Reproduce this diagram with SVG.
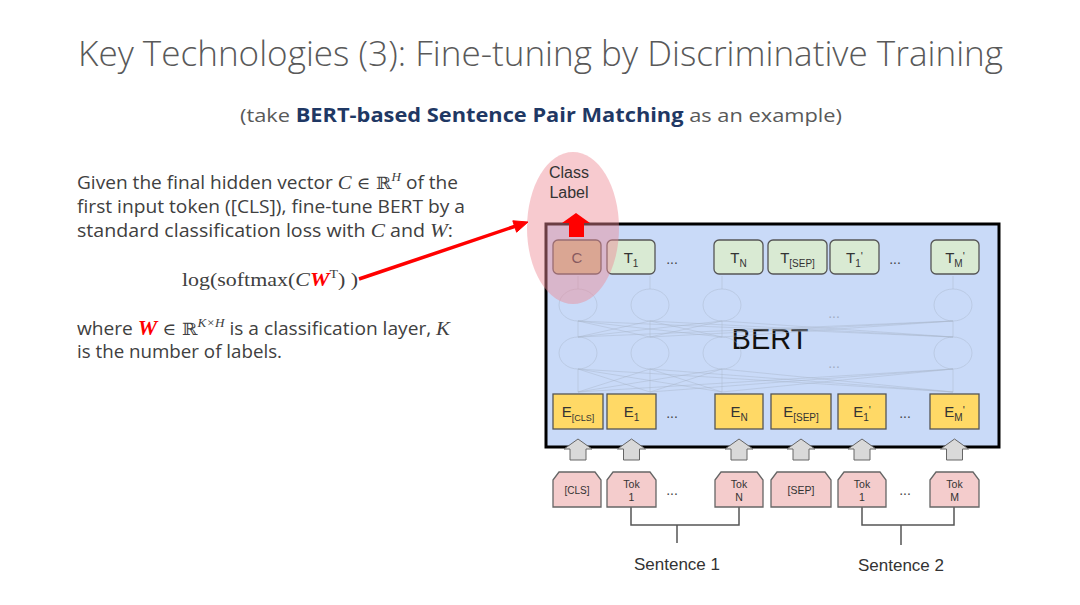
<svg xmlns="http://www.w3.org/2000/svg" width="1080" height="605" viewBox="0 0 1080 605">
<style>
.title{font-family:"Open Sans","Liberation Sans",sans-serif;font-weight:300;font-size:35px;fill:#595959}
.sub{font-family:"Open Sans","Liberation Sans",sans-serif;font-size:19px;fill:#595959}
.subb{font-weight:700;fill:#1f3864}
.body{font-family:"Open Sans","Liberation Sans",sans-serif;font-size:17.5px;fill:#404040}
.mi{font-family:"Liberation Serif",serif;font-style:italic}
.ds{font-family:"DejaVu Serif",serif;font-size:17px}
.red{fill:#ff0000;font-weight:700}
.math{font-family:"Liberation Serif",serif;font-size:19px;fill:#404040}
.lab{font-family:"Liberation Sans",Arial,sans-serif;fill:#333;text-anchor:middle}
.tbox{fill:#d9ead3;stroke:#555;stroke-width:1.3}
.ebox{fill:#ffd966;stroke:#555;stroke-width:1.3}
.tok{fill:#f4cccc;stroke:#666;stroke-width:1.3}
.garr{fill:#d9d9d9;stroke:#666;stroke-width:1}
.net{stroke:#a9b6ca;stroke-width:0.9;fill:none;opacity:0.5}
.dots{font-family:"Liberation Sans",Arial,sans-serif;font-size:14px;fill:#444;text-anchor:middle}
.brk{stroke:#555;stroke-width:1.5;fill:none}
</style>

<text class="title" x="78" y="66" textLength="925" lengthAdjust="spacingAndGlyphs">Key Technologies (3): Fine-tuning by Discriminative Training</text>
<text class="sub" x="240" y="122" textLength="602" lengthAdjust="spacingAndGlyphs">(take <tspan class="subb">BERT-based Sentence Pair Matching</tspan> as an example)</text>

<g id="explanation">
<text class="body" x="77" y="189" textLength="381" lengthAdjust="spacingAndGlyphs">Given the final hidden vector <tspan class="mi" font-size="19">C</tspan> <tspan class="ds">∈ ℝ</tspan><tspan class="mi" font-size="12" dy="-8">H</tspan><tspan dy="8"> of the</tspan></text>
<text class="body" x="77" y="213" textLength="388" lengthAdjust="spacingAndGlyphs">first input token ([CLS]), fine-tune BERT by a</text>
<text class="body" x="77" y="237" textLength="376" lengthAdjust="spacingAndGlyphs">standard classification loss with <tspan class="mi" font-size="19">C</tspan> and <tspan class="mi" font-size="19">W</tspan>:</text>
<text class="math" x="182" y="286" textLength="176" lengthAdjust="spacingAndGlyphs">log(softmax(<tspan class="mi">C</tspan><tspan class="mi red">W</tspan><tspan font-size="12" dy="-8">T</tspan><tspan dy="8">) )</tspan></text>
<text class="body" x="77" y="335" textLength="373" lengthAdjust="spacingAndGlyphs">where <tspan class="mi red" font-size="20">W</tspan> <tspan class="ds">∈ ℝ</tspan><tspan class="mi" font-size="12" dy="-8">K×H</tspan><tspan dy="8"> is a classification layer, </tspan><tspan class="mi" font-size="19">K</tspan></text>
<text class="body" x="77" y="358" textLength="205" lengthAdjust="spacingAndGlyphs">is the number of labels.</text>
</g>

<g id="bert">
<rect x="546" y="224" width="453" height="223" fill="#c9daf8" stroke="#000" stroke-width="3"/>
<text x="770" y="349" font-family="Liberation Sans,Arial,sans-serif" font-size="29" fill="#111" text-anchor="middle">BERT</text>
</g>

<g id="network">
<ellipse class="net" cx="578" cy="305" rx="19" ry="16"/>
<ellipse class="net" cx="650" cy="305" rx="19" ry="16"/>
<ellipse class="net" cx="722" cy="305" rx="19" ry="16"/>
<ellipse class="net" cx="953" cy="305" rx="19" ry="16"/>
<ellipse class="net" cx="578" cy="353" rx="19" ry="16"/>
<ellipse class="net" cx="650" cy="353" rx="19" ry="16"/>
<ellipse class="net" cx="722" cy="353" rx="19" ry="16"/>
<ellipse class="net" cx="953" cy="353" rx="19" ry="16"/>
<path class="net" d="M578 392L578 369M578 392L650 369M578 392L722 369M578 392L953 369M650 392L578 369M650 392L650 369M650 392L722 369M650 392L953 369M722 392L578 369M722 392L650 369M722 392L722 369M722 392L953 369M953 392L578 369M953 392L650 369M953 392L722 369M953 392L953 369"/>
<path class="net" d="M578 337L578 321M578 337L650 321M578 337L722 321M578 337L953 321M650 337L578 321M650 337L650 321M650 337L722 321M650 337L953 321M722 337L578 321M722 337L650 321M722 337L722 321M722 337L953 321M953 337L578 321M953 337L650 321M953 337L722 321M953 337L953 321"/>
<path class="net" d="M578 289V276M650 289V276M722 289V276M953 289V276"/>
<text class="dots" x="834" y="318" opacity="0.3">...</text>
<text class="dots" x="834" y="368" opacity="0.3">...</text>
</g>

<g id="outputs">
<g id="node-C"><rect x="553" y="240" width="48" height="34" rx="5" fill="#cbbd93" stroke="#555" stroke-width="1.3"/><text class="lab" x="577" y="263" font-size="15">C</text></g>
<g id="node-T1"><rect class="tbox" x="607" y="240" width="48" height="34" rx="5"/><text class="lab" x="631" y="263" font-size="15">T<tspan font-size="10" dy="4">1</tspan></text></g>
<text class="dots" x="672" y="264">...</text>
<g id="node-TN"><rect class="tbox" x="714" y="240" width="49" height="34" rx="5"/><text class="lab" x="738.5" y="263" font-size="15">T<tspan font-size="10" dy="4">N</tspan></text></g>
<g id="node-TSEP"><rect class="tbox" x="768" y="240" width="59" height="34" rx="5"/><text class="lab" x="797.5" y="263" font-size="15">T<tspan font-size="10" dy="4">[SEP]</tspan></text></g>
<g id="node-T1p"><rect class="tbox" x="830" y="240" width="49" height="34" rx="5"/><text class="lab" x="854.5" y="263" font-size="15">T<tspan font-size="10" dy="4">1</tspan><tspan dy="-7" font-size="11">'</tspan></text></g>
<text class="dots" x="895" y="264">...</text>
<g id="node-TMp"><rect class="tbox" x="931" y="240" width="48" height="34" rx="5"/><text class="lab" x="955" y="263" font-size="15">T<tspan font-size="10" dy="4">M</tspan><tspan dy="-7" font-size="11">'</tspan></text></g>
</g>

<g id="embeddings">
<g id="node-ECLS"><rect class="ebox" x="553" y="394" width="50" height="35"/><text class="lab" x="578" y="417" font-size="15">E<tspan font-size="9" dy="4">[CLS]</tspan></text></g>
<g id="node-E1"><rect class="ebox" x="607" y="394" width="49" height="35"/><text class="lab" x="631.5" y="417" font-size="15">E<tspan font-size="10" dy="4">1</tspan></text></g>
<text class="dots" x="672" y="418">...</text>
<g id="node-EN"><rect class="ebox" x="715" y="394" width="48" height="35"/><text class="lab" x="739" y="417" font-size="15">E<tspan font-size="10" dy="4">N</tspan></text></g>
<g id="node-ESEP"><rect class="ebox" x="771" y="394" width="60" height="35"/><text class="lab" x="801" y="417" font-size="15">E<tspan font-size="10" dy="4">[SEP]</tspan></text></g>
<g id="node-E1p"><rect class="ebox" x="838" y="394" width="48" height="35"/><text class="lab" x="862" y="417" font-size="15">E<tspan font-size="10" dy="4">1</tspan><tspan dy="-7" font-size="11">'</tspan></text></g>
<text class="dots" x="905" y="418">...</text>
<g id="node-EMp"><rect class="ebox" x="930" y="394" width="49" height="35"/><text class="lab" x="954.5" y="417" font-size="15">E<tspan font-size="10" dy="4">M</tspan><tspan dy="-7" font-size="11">'</tspan></text></g>
</g>

<g id="connectors">
<path class="garr" d="M578 439L592 449L586 449L586 460L570 460L570 449L564 449Z"/>
<path class="garr" d="M631.5 439L645.5 449L639.5 449L639.5 460L623.5 460L623.5 449L617.5 449Z"/>
<path class="garr" d="M739 439L753 449L747 449L747 460L731 460L731 449L725 449Z"/>
<path class="garr" d="M801 439L815 449L809 449L809 460L793 460L793 449L787 449Z"/>
<path class="garr" d="M862 439L876 449L870 449L870 460L854 460L854 449L848 449Z"/>
<path class="garr" d="M954.5 439L968.5 449L962.5 449L962.5 460L946.5 460L946.5 449L940.5 449Z"/>
<path class="brk" d="M631 507V525H739V507M677 525V543"/>
<path class="brk" d="M862 507V525H954V507M901 525V545"/>
</g>

<g id="tokens">
<g id="tok-CLS"><path class="tok" d="M553 480L559 472L595 472L601 480L601 507L553 507Z"/><text class="lab" x="577" y="494" font-size="10">[CLS]</text></g>
<g id="tok-1"><path class="tok" d="M607 480L613 472L650 472L656 480L656 507L607 507Z"/><text class="lab" x="631.5" y="488" font-size="10.5">Tok</text><text class="lab" x="631.5" y="501" font-size="10.5">1</text></g>
<text class="dots" x="672" y="495">...</text>
<g id="tok-N"><path class="tok" d="M715 480L721 472L757 472L763 480L763 507L715 507Z"/><text class="lab" x="739" y="488" font-size="10.5">Tok</text><text class="lab" x="739" y="501" font-size="10.5">N</text></g>
<g id="tok-SEP"><path class="tok" d="M771 480L777 472L825 472L831 480L831 507L771 507Z"/><text class="lab" x="801" y="494" font-size="10.5">[SEP]</text></g>
<g id="tok-1p"><path class="tok" d="M838 480L844 472L880 472L886 480L886 507L838 507Z"/><text class="lab" x="862" y="488" font-size="10.5">Tok</text><text class="lab" x="862" y="501" font-size="10.5">1</text></g>
<text class="dots" x="905" y="495">...</text>
<g id="tok-M"><path class="tok" d="M930 480L936 472L973 472L979 480L979 507L930 507Z"/><text class="lab" x="954.5" y="488" font-size="10.5">Tok</text><text class="lab" x="954.5" y="501" font-size="10.5">M</text></g>
</g>

<g id="sentences">
<text class="lab" x="677" y="570" font-size="17" fill="#222">Sentence 1</text>
<text class="lab" x="901" y="571" font-size="17" fill="#222">Sentence 2</text>
</g>

<g id="class-label">
<ellipse cx="573" cy="228" rx="46" ry="76" fill="#ee8a95" fill-opacity="0.45"/>
<text class="lab" x="569" y="178" font-size="16" fill="#4a3336">Class</text>
<text class="lab" x="569" y="198" font-size="16" fill="#4a3336">Label</text>
</g>

<g id="red-arrows">
<path d="M359 279L516 226" stroke="#ff0000" stroke-width="3.5" fill="none"/>
<path d="M528 222L516.6 232.2L512.8 220.8Z" fill="#ff0000" stroke="#ff0000" stroke-width="1"/>
<path d="M576 213L590 223L584 223L584 237L569 237L569 223L562 223Z" fill="#ff0000"/>
</g>
</svg>
